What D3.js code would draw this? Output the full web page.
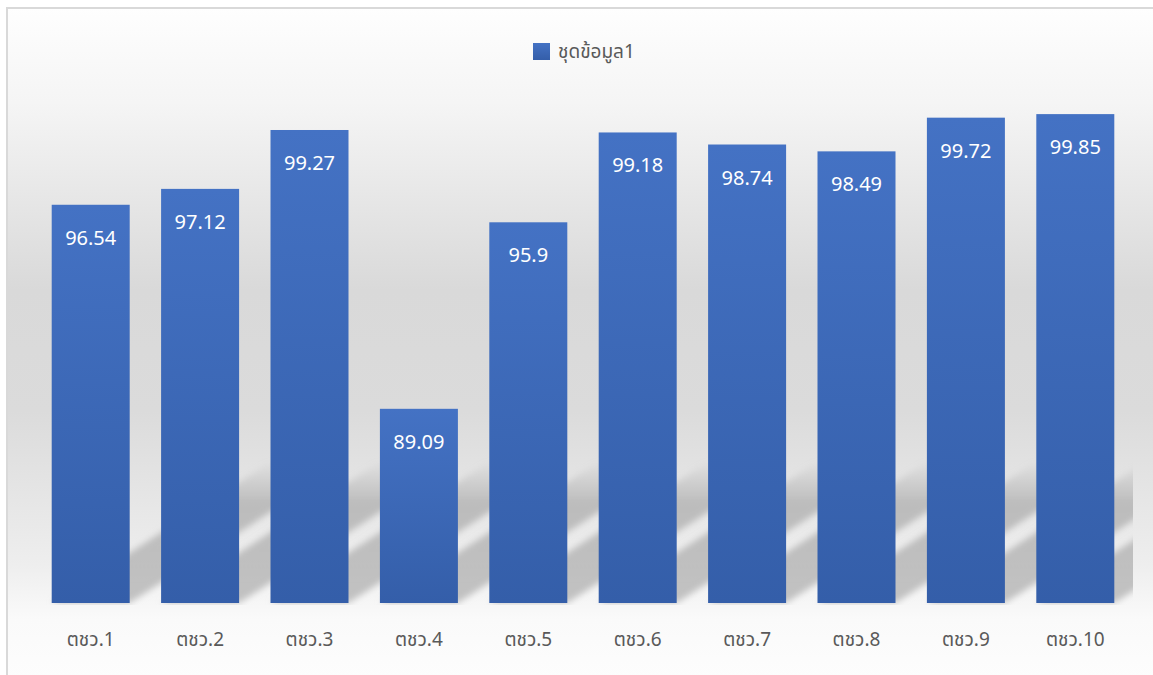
<!DOCTYPE html>
<html>
<head>
<meta charset="utf-8">
<script src="https://cdn.jsdelivr.net/npm/d3@7"></script>
<style>
  body { margin: 0; background: #fff; }
  svg { display: block; }
  text { font-family: "Noto Sans", "Noto Sans Thai", Tahoma, "DejaVu Sans", sans-serif; }
</style>
</head>
<body>
<div id="chart"></div>
<script>
// data
const categories = ['ตชว.1', 'ตชว.2', 'ตชว.3', 'ตชว.4', 'ตชว.5', 'ตชว.6', 'ตชว.7', 'ตชว.8', 'ตชว.9', 'ตชว.10'];
const values = [96.54, 97.12, 99.27, 89.09, 95.9, 99.18, 98.74, 98.49, 99.72, 99.85];
const seriesName = 'ชุดข้อมูล1';

const width = 1153;
const height = 675;
const baseY = 603;

const svg = d3.select('#chart')
  .append('svg')
  .attr('width', width)
  .attr('height', height);

const defs = svg.append('defs');

// chart background gradient (white -> grey -> white)
const bg = defs.append('linearGradient')
  .attr('id', 'bg')
  .attr('x1', 0).attr('y1', 0).attr('x2', 0).attr('y2', 1);
[[0, '#fefefe'], [0.14, '#f5f5f5'], [0.42, '#d9d9d9'], [0.6, '#dbdbdb'], [0.83, '#eeeeee'], [0.91, '#fafafa'], [1, '#fdfdfd']]
  .forEach(s => bg.append('stop').attr('offset', s[0]).attr('stop-color', s[1]));

// bar fill gradient
const barGrad = defs.append('linearGradient')
  .attr('id', 'barGrad')
  .attr('x1', 0).attr('y1', 0).attr('x2', 0).attr('y2', 1);
barGrad.append('stop').attr('offset', 0).attr('stop-color', '#4472c4');
barGrad.append('stop').attr('offset', 1).attr('stop-color', '#345ea9');

// shadow fade
const shGrad = defs.append('linearGradient')
  .attr('id', 'shGrad')
  .attr('gradientUnits', 'userSpaceOnUse')
  .attr('x1', 0).attr('y1', baseY).attr('x2', 0).attr('y2', 460);
shGrad.append('stop').attr('offset', 0).attr('stop-color', '#b5b5b5').attr('stop-opacity', 0.8);
shGrad.append('stop').attr('offset', 0.7).attr('stop-color', '#b5b5b5').attr('stop-opacity', 0.85);
shGrad.append('stop').attr('offset', 1).attr('stop-color', '#b5b5b5').attr('stop-opacity', 0);

defs.append('filter')
  .attr('id', 'blur')
  .attr('x', '-20%').attr('y', '-20%').attr('width', '140%').attr('height', '140%')
  .append('feGaussianBlur')
  .attr('stdDeviation', 3);

defs.append('clipPath')
  .attr('id', 'plotClip')
  .append('rect')
  .attr('x', 36).attr('y', 440).attr('width', 1097).attr('height', baseY - 440 + 2);

svg.append('rect')
  .attr('x', 7).attr('y', 8)
  .attr('width', 1152).attr('height', 672)
  .attr('fill', 'url(#bg)')
  .attr('stroke', '#d9d9d9')
  .attr('stroke-width', 2);

const x = d3.scaleBand()
  .domain(categories)
  .range([36, 1130])
  .paddingInner(0.287)
  .paddingOuter(0.1435);

const y = d3.scaleLinear()
  .domain([82, 100])
  .range([baseY, 110]);

// slanted cast shadows behind the bars
const shH = 140;
const shS = 1.55;
svg.append('g')
  .attr('clip-path', 'url(#plotClip)')
  .append('g')
  .attr('filter', 'url(#blur)')
  .selectAll('polygon')
  .data(categories)
  .join('polygon')
  .attr('points', d => {
    const l = x(d), r = x(d) + x.bandwidth();
    return [[l, baseY], [r, baseY], [r + shH * shS, baseY - shH], [l + shH * shS, baseY - shH]]
      .map(p => p.join(',')).join(' ');
  })
  .attr('fill', 'url(#shGrad)');

// bars
svg.append('g')
  .selectAll('rect')
  .data(values)
  .join('rect')
  .attr('x', (d, i) => x(categories[i]))
  .attr('y', d => y(d))
  .attr('width', x.bandwidth())
  .attr('height', d => baseY - y(d))
  .attr('fill', 'url(#barGrad)');

// data labels
svg.append('g')
  .selectAll('text')
  .data(values)
  .join('text')
  .attr('x', (d, i) => x(categories[i]) + x.bandwidth() / 2)
  .attr('y', d => y(d) + 40)
  .attr('text-anchor', 'middle')
  .attr('fill', '#ffffff')
  .style('font-size', '20px')
  .text(d => d);

// category axis labels
const xAxis = svg.append('g')
  .attr('transform', `translate(0,${baseY})`)
  .call(d3.axisBottom(x).tickSize(0).tickPadding(30));
xAxis.select('.domain').remove();
xAxis.selectAll('text')
  .attr('fill', '#595959')
  .style('font-size', '19px');

// legend
const legend = svg.append('g').attr('transform', 'translate(533,43)');
legend.append('rect')
  .attr('width', 17).attr('height', 17)
  .attr('fill', 'url(#barGrad)');
legend.append('text')
  .attr('x', 25).attr('y', 15)
  .attr('fill', '#595959')
  .style('font-size', '19px')
  .text(seriesName);
</script>
</body>
</html>
